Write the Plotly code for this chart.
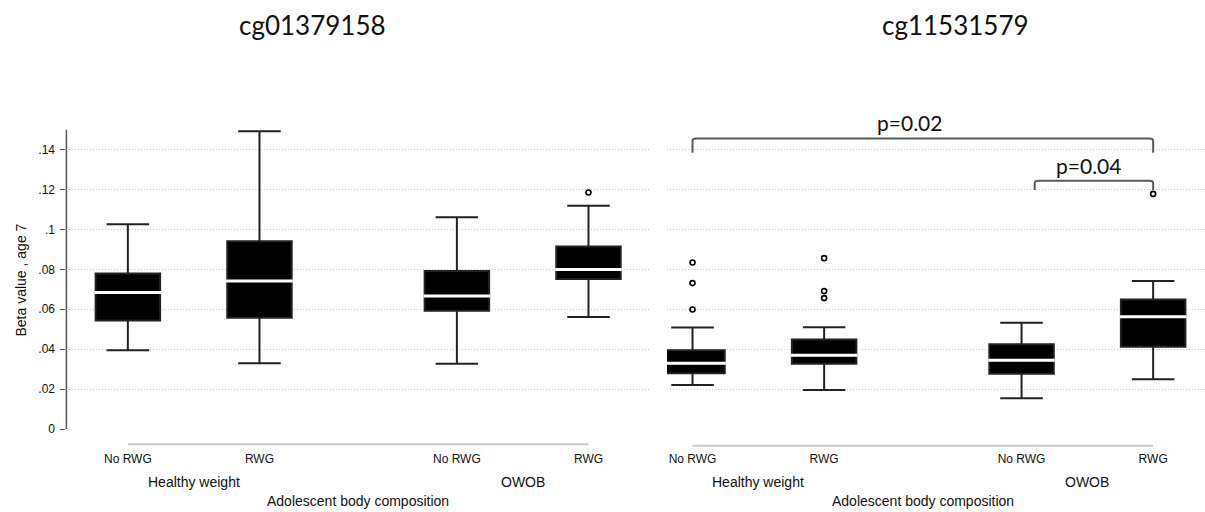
import plotly.graph_objects as go

# ---------------- data ----------------
positions = [0, 1, 2.5, 3.5]
tick_labels = ["No RWG", "RWG", "No RWG", "RWG"]
group_names = ["Healthy weight", "OWOB"]
group_members = [[0, 1], [2, 3]]
panel_titles = ["cg01379158", "cg11531579"]
x_title = "Adolescent body composition"
y_title = "Beta value , age 7"
y_tickvals = [0, 0.02, 0.04, 0.06, 0.08, 0.10, 0.12, 0.14]
y_ticktext = ["0", ".02", ".04", ".06", ".08", ".1", ".12", ".14"]

# cg01379158
a_q1 = [0.0544, 0.0557, 0.0592, 0.0752]
a_median = [0.0684, 0.0742, 0.0667, 0.0799]
a_q3 = [0.0779, 0.0941, 0.0792, 0.0914]
a_lower = [0.0395, 0.0329, 0.0327, 0.0561]
a_upper = [0.1026, 0.1492, 0.1061, 0.1118]
a_outliers = [[], [], [], [0.1185]]

# cg11531579
b_q1 = [0.0280, 0.0327, 0.0277, 0.0412]
b_median = [0.0329, 0.0369, 0.0344, 0.0562]
b_q3 = [0.0395, 0.0449, 0.0425, 0.0649]
b_lower = [0.0220, 0.0195, 0.0154, 0.0249]
b_upper = [0.0509, 0.0510, 0.0532, 0.0742]
b_outliers = [[0.0834, 0.0731, 0.0599], [0.0856, 0.0691, 0.0656], [], [0.1178]]

# significance brackets (right panel): label, left pos, right pos
p_labels = ["p=0.02", "p=0.04"]
p_left = [0, 2.6]
p_right = [3.5, 3.5]

# ---------------- styling ----------------
W, H = 1205, 512
ARIAL = "Liberation Sans, Arial, sans-serif"
CAL = "Lato, Open Sans, sans-serif"
BOX_W = 0.49
GRID = dict(showgrid=True, gridcolor="#c4c4c4", griddash="1px,2px", gridwidth=1)


def py(p):
    return 1 - p / H


fig = go.Figure()

panels = [
    ("x", "y", a_q1, a_median, a_q3, a_lower, a_upper, a_outliers),
    ("x2", "y2", b_q1, b_median, b_q3, b_lower, b_upper, b_outliers),
]

for xa, ya, q1, med, q3, lo, up, outl in panels:
    fig.add_trace(go.Box(
        x=positions, q1=q1, median=med, q3=q3, lowerfence=lo, upperfence=up,
        width=BOX_W, whiskerwidth=0.66, fillcolor="black",
        line=dict(color="#222222", width=2), boxpoints=False,
        showlegend=False, hoverinfo="skip", xaxis=xa, yaxis=ya))
    # white median lines
    mx, my = [], []
    hw = BOX_W / 2 + 0.008
    for p, m in zip(positions, med):
        mx += [p - hw, p + hw, None]
        my += [m, m, None]
    fig.add_trace(go.Scatter(x=mx, y=my, mode="lines",
                             line=dict(color="white", width=3),
                             showlegend=False, hoverinfo="skip",
                             xaxis=xa, yaxis=ya))
    # outliers
    ox, oy = [], []
    for p, vals in zip(positions, outl):
        for v in vals:
            ox.append(p)
            oy.append(v)
    fig.add_trace(go.Scatter(x=ox, y=oy, mode="markers",
                             marker=dict(symbol="circle-open", size=5,
                                         color="black", line=dict(width=1.6)),
                             showlegend=False, hoverinfo="skip",
                             xaxis=xa, yaxis=ya))

ydom = [py(446), py(129.6)]
yrange = [-0.0085, 0.15]

fig.update_layout(
    width=W, height=H, autosize=False,
    margin=dict(l=0, r=0, t=0, b=0),
    paper_bgcolor="white", plot_bgcolor="white",
    xaxis=dict(domain=[66.4 / W, 651 / W], range=[-0.467, 3.975],
               tickvals=positions, ticktext=tick_labels, ticks="",
               showgrid=False, zeroline=False, showline=False,
               tickfont=dict(family=ARIAL, size=12, color="#111"),
               ticklabelstandoff=4),
    xaxis2=dict(domain=[667 / W, 1.0], range=[-0.194, 3.894],
                tickvals=positions, ticktext=tick_labels, ticks="",
                showgrid=False, zeroline=False, showline=False,
                tickfont=dict(family=ARIAL, size=12, color="#111"),
                ticklabelstandoff=4),
    yaxis=dict(domain=ydom, range=yrange, tickvals=y_tickvals,
               ticktext=y_ticktext, ticks="outside", ticklen=5,
               tickcolor="#555", tickwidth=1, showline=False,
               zeroline=True, zerolinecolor="white", zerolinewidth=1,
               tickfont=dict(family=ARIAL, size=12, color="#111"),
               ticklabelstandoff=3, **GRID),
    yaxis2=dict(domain=ydom, range=yrange, tickvals=y_tickvals,
                showticklabels=False, ticks="", showline=False,
                zeroline=True, zerolinecolor="white", zerolinewidth=1,
                anchor="x2", **GRID),
)

shapes = []
# left y-axis line (from 0 to top)
shapes.append(dict(type="line", xref="x domain", yref="y", x0=0, x1=0,
                   y0=0, y1=0.15, line=dict(color="#555", width=1.5)))
# grey x-axis lines spanning first to last category
for xa, ypix in (("x", 444.3), ("x2", 445.7)):
    shapes.append(dict(type="line", xref=xa, yref="paper",
                       x0=positions[0], x1=positions[-1],
                       y0=py(ypix), y1=py(ypix),
                       line=dict(color="#c8c8c8", width=2)))

# brackets
bracket_top = [0.1456, 0.1244]
bracket_foot = [0.1384, 0.1197]
for l, r, t, f in zip(p_left, p_right, bracket_top, bracket_foot):
    dx = 0.03
    dy = 0.0012
    path = (f"M {l},{f} L {l},{t - dy} Q {l},{t} {l + dx},{t} "
            f"L {r - dx},{t} Q {r},{t} {r},{t - dy} L {r},{f}")
    shapes.append(dict(type="path", xref="x2", yref="y2", path=path,
                       line=dict(color="#5a5a5a", width=2)))

fig.update_layout(shapes=shapes)

ann = []
# panel titles
for t, cx in zip(panel_titles, [312, 955]):
    ann.append(dict(text=t, x=cx / W, y=py(25), xref="paper", yref="paper",
                    showarrow=False, xanchor="center", yanchor="middle",
                    font=dict(family=CAL, size=26, color="#111")))
# y title
ann.append(dict(text=y_title, x=20 / W, y=py(280.5), xref="paper",
                yref="paper", showarrow=False, textangle=-90,
                xanchor="center", yanchor="middle",
                font=dict(family=ARIAL, size=14, color="#111")))
# group labels and x titles
for xa in ("x", "x2"):
    for name, mem in zip(group_names, group_members):
        cx = sum(positions[i] for i in mem) / len(mem)
        ann.append(dict(text=name, x=cx, y=py(481.7), xref=xa, yref="paper",
                        showarrow=False, xanchor="center", yanchor="middle",
                        font=dict(family=ARIAL, size=14, color="#111")))
    ann.append(dict(text=x_title, x=(positions[0] + positions[-1]) / 2,
                    y=py(501), xref=xa, yref="paper", showarrow=False,
                    xanchor="center", yanchor="middle",
                    font=dict(family=ARIAL, size=14, color="#111")))
# p-value labels
for lab, cx, cy in zip(p_labels, [1.65, 3.01], [122, 165.5]):
    ann.append(dict(text=lab, x=cx, y=py(cy), xref="x2", yref="paper",
                    showarrow=False, xanchor="center", yanchor="middle",
                    font=dict(family=CAL, size=21, color="#111")))

fig.update_layout(annotations=ann)

fig.write_html("out.html")
